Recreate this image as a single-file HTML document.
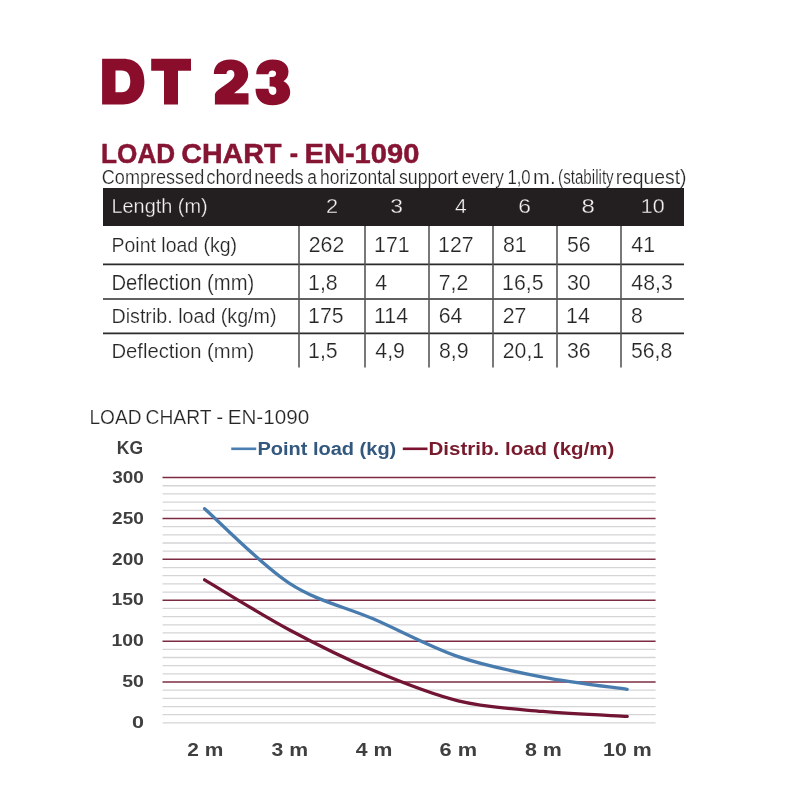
<!DOCTYPE html>
<html><head><meta charset="utf-8"><title>DT 23 Load Chart</title><style>
html,body{margin:0;padding:0;background:#fff;}
body{width:800px;height:800px;overflow:hidden;}
svg{display:block;will-change:transform;}
text{font-family:"Liberation Sans",sans-serif;}
.th{fill:#f4f2f2;stroke:#231f20;stroke-width:0.32px;}
.td{fill:#262626;stroke:#fff;stroke-width:0.22px;}
.ax{fill:#3f3f3f;}
.sub{fill:#262626;stroke:#fff;stroke-width:0.22px;}
</style></head><body>
<svg width="800" height="800" viewBox="0 0 800 800">
<g fill="#8a0e2c" fill-rule="evenodd">
<path d="M102.1,58.7 H123 C136.5,58.7 144.4,67 144.4,81.6 C144.4,96 136.5,104.5 123,104.5 H102.1 Z M115.5,70.5 V92.2 H121.5 C127.3,92.2 130.3,88.2 130.3,81.3 C130.3,74.5 127.3,70.5 121.5,70.5 Z"/>
<path d="M151.2,58.7 H191 V70.7 H178 V104.5 H164 V70.7 H151.2 Z"/>
<path d="M214.9,104.5 H248.5 V93.2 H234.1 C240,88.5 248.2,83 248.2,74.6 C248.2,65 240.5,59.5 230.7,59.5 C220,59.5 213.8,65 213.8,73.9 H226.5 C226.5,71.5 228,70.1 230.7,70.1 C233,70.1 234.4,71.8 234.4,74.5 C234.4,78.5 230,81.5 225,85 C218,90 214.9,92 214.9,95 Z"/>
<path d="M256.2,74.3 C256.2,64.5 263.5,59.4 272.7,59.4 C282,59.4 288.5,64 288.5,71.5 C288.5,76 286.5,79.5 283.5,81.2 C287.5,83 290.2,87 290.2,92.5 C290.2,100.5 283,105.2 272.7,105.2 C262,105.2 255.5,99.5 255.5,88.7 H268.5 C268.5,92.5 270.5,94.9 273,94.9 C275.5,94.9 276.4,93 276.4,90.5 C276.4,88 275,86.6 272,86.6 H269.6 V77 H272 C275,77 276.1,75.5 276.1,73.6 C276.1,71.5 274.5,70.5 272.5,70.5 C270,70.5 268.5,72 268.5,74.3 Z"/>
</g>
<rect x="103" y="188" width="581" height="38" fill="#231f20"/>
<line x1="103" x2="684" y1="264.4" y2="264.4" stroke="#2b2b2b" stroke-width="1.6"/>
<line x1="103" x2="684" y1="299" y2="299" stroke="#2b2b2b" stroke-width="1.6"/>
<line x1="103" x2="684" y1="333.4" y2="333.4" stroke="#2b2b2b" stroke-width="1.6"/>
<line x1="299" x2="299" y1="226" y2="367.5" stroke="#575757" stroke-width="1.6"/>
<line x1="365" x2="365" y1="226" y2="367.5" stroke="#575757" stroke-width="1.6"/>
<line x1="429" x2="429" y1="226" y2="367.5" stroke="#575757" stroke-width="1.6"/>
<line x1="493" x2="493" y1="226" y2="367.5" stroke="#575757" stroke-width="1.6"/>
<line x1="557" x2="557" y1="226" y2="367.5" stroke="#575757" stroke-width="1.6"/>
<line x1="621" x2="621" y1="226" y2="367.5" stroke="#575757" stroke-width="1.6"/>
<line x1="162.5" x2="655.6" y1="722.9" y2="722.9" stroke="#d5d5d7" stroke-width="1.3"/>
<line x1="162.5" x2="655.6" y1="714.72" y2="714.72" stroke="#d5d5d7" stroke-width="1.3"/>
<line x1="162.5" x2="655.6" y1="706.55" y2="706.55" stroke="#d5d5d7" stroke-width="1.3"/>
<line x1="162.5" x2="655.6" y1="698.37" y2="698.37" stroke="#d5d5d7" stroke-width="1.3"/>
<line x1="162.5" x2="655.6" y1="690.19" y2="690.19" stroke="#d5d5d7" stroke-width="1.3"/>
<line x1="162.5" x2="655.6" y1="682.01" y2="682.01" stroke="#7c2c42" stroke-width="1.5"/>
<line x1="162.5" x2="655.6" y1="673.84" y2="673.84" stroke="#d5d5d7" stroke-width="1.3"/>
<line x1="162.5" x2="655.6" y1="665.66" y2="665.66" stroke="#d5d5d7" stroke-width="1.3"/>
<line x1="162.5" x2="655.6" y1="657.48" y2="657.48" stroke="#d5d5d7" stroke-width="1.3"/>
<line x1="162.5" x2="655.6" y1="649.31" y2="649.31" stroke="#d5d5d7" stroke-width="1.3"/>
<line x1="162.5" x2="655.6" y1="641.13" y2="641.13" stroke="#7c2c42" stroke-width="1.5"/>
<line x1="162.5" x2="655.6" y1="632.95" y2="632.95" stroke="#d5d5d7" stroke-width="1.3"/>
<line x1="162.5" x2="655.6" y1="624.78" y2="624.78" stroke="#d5d5d7" stroke-width="1.3"/>
<line x1="162.5" x2="655.6" y1="616.6" y2="616.6" stroke="#d5d5d7" stroke-width="1.3"/>
<line x1="162.5" x2="655.6" y1="608.42" y2="608.42" stroke="#d5d5d7" stroke-width="1.3"/>
<line x1="162.5" x2="655.6" y1="600.25" y2="600.25" stroke="#7c2c42" stroke-width="1.5"/>
<line x1="162.5" x2="655.6" y1="592.07" y2="592.07" stroke="#d5d5d7" stroke-width="1.3"/>
<line x1="162.5" x2="655.6" y1="583.89" y2="583.89" stroke="#d5d5d7" stroke-width="1.3"/>
<line x1="162.5" x2="655.6" y1="575.71" y2="575.71" stroke="#d5d5d7" stroke-width="1.3"/>
<line x1="162.5" x2="655.6" y1="567.54" y2="567.54" stroke="#d5d5d7" stroke-width="1.3"/>
<line x1="162.5" x2="655.6" y1="559.36" y2="559.36" stroke="#7c2c42" stroke-width="1.5"/>
<line x1="162.5" x2="655.6" y1="551.18" y2="551.18" stroke="#d5d5d7" stroke-width="1.3"/>
<line x1="162.5" x2="655.6" y1="543.01" y2="543.01" stroke="#d5d5d7" stroke-width="1.3"/>
<line x1="162.5" x2="655.6" y1="534.83" y2="534.83" stroke="#d5d5d7" stroke-width="1.3"/>
<line x1="162.5" x2="655.6" y1="526.65" y2="526.65" stroke="#d5d5d7" stroke-width="1.3"/>
<line x1="162.5" x2="655.6" y1="518.48" y2="518.48" stroke="#7c2c42" stroke-width="1.5"/>
<line x1="162.5" x2="655.6" y1="510.3" y2="510.3" stroke="#d5d5d7" stroke-width="1.3"/>
<line x1="162.5" x2="655.6" y1="502.12" y2="502.12" stroke="#d5d5d7" stroke-width="1.3"/>
<line x1="162.5" x2="655.6" y1="493.94" y2="493.94" stroke="#d5d5d7" stroke-width="1.3"/>
<line x1="162.5" x2="655.6" y1="485.77" y2="485.77" stroke="#d5d5d7" stroke-width="1.3"/>
<line x1="162.5" x2="655.6" y1="477.59" y2="477.59" stroke="#7c2c42" stroke-width="1.5"/>
<line x1="231.25" x2="256.25" y1="448.8" y2="448.8" stroke="#4a7eb0" stroke-width="2.6"/>
<line x1="402.8" x2="427.5" y1="448.8" y2="448.8" stroke="#7a1230" stroke-width="2.6"/>
<path d="M204.6,508.66 C218.69,521.06 260.95,564.68 289.12,583.07 C317.29,601.47 345.47,606.79 373.64,619.05 C401.81,631.32 429.99,646.99 458.16,656.67 C486.33,666.34 514.51,671.66 542.68,677.11 C570.85,682.56 613.11,687.33 627.2,689.37" fill="none" stroke="#497cae" stroke-width="3.3" stroke-linecap="round"/>
<path d="M204.6,579.8 C218.69,588.12 260.95,614.55 289.12,629.68 C317.29,644.81 345.47,658.71 373.64,670.57 C401.81,682.42 429.99,694.01 458.16,700.82 C486.33,707.64 514.51,708.86 542.68,711.45 C570.85,714.04 613.11,715.54 627.2,716.36" fill="none" stroke="#721433" stroke-width="3.3" stroke-linecap="round"/>
<text x="101.12" y="163.45" font-size="28" font-weight="bold" textLength="74" lengthAdjust="spacingAndGlyphs" fill="#861533" stroke="#861533" stroke-width="0.5">LOAD</text>
<text x="181.2" y="163.45" font-size="28" font-weight="bold" textLength="100.32" lengthAdjust="spacingAndGlyphs" fill="#861533" stroke="#861533" stroke-width="0.5">CHART</text>
<text x="289.75" y="163.45" font-size="28" font-weight="bold" textLength="8.33" lengthAdjust="spacingAndGlyphs" fill="#861533" stroke="#861533" stroke-width="0.5">-</text>
<text x="304.46" y="163.45" font-size="28" font-weight="bold" textLength="114.95" lengthAdjust="spacingAndGlyphs" fill="#861533" stroke="#861533" stroke-width="0.5">EN-1090</text>
<text x="101.8" y="183.9" font-size="20" textLength="102.45" lengthAdjust="spacingAndGlyphs" class="sub">Compressed</text>
<text x="206.26" y="183.9" font-size="20" textLength="46.12" lengthAdjust="spacingAndGlyphs" class="sub">chord</text>
<text x="254.23" y="183.9" font-size="20" textLength="49.4" lengthAdjust="spacingAndGlyphs" class="sub">needs</text>
<text x="307.31" y="183.9" font-size="20" textLength="9.63" lengthAdjust="spacingAndGlyphs" class="sub">a</text>
<text x="320.03" y="183.9" font-size="20" textLength="75.62" lengthAdjust="spacingAndGlyphs" class="sub">horizontal</text>
<text x="398.97" y="183.9" font-size="20" textLength="59.13" lengthAdjust="spacingAndGlyphs" class="sub">support</text>
<text x="461.81" y="183.9" font-size="20" textLength="42.03" lengthAdjust="spacingAndGlyphs" class="sub">every</text>
<text x="507.41" y="183.9" font-size="20" textLength="23.26" lengthAdjust="spacingAndGlyphs" class="sub">1,0</text>
<text x="533.08" y="183.9" font-size="20" textLength="22.51" lengthAdjust="spacingAndGlyphs" class="sub">m.</text>
<text x="558.09" y="183.9" font-size="20" textLength="55.62" lengthAdjust="spacingAndGlyphs" class="sub">(stability</text>
<text x="615.65" y="183.9" font-size="20" textLength="70.88" lengthAdjust="spacingAndGlyphs" class="sub">request)</text>
<text x="111.51" y="212.9" font-size="21.14" textLength="96.09" lengthAdjust="spacingAndGlyphs" class="th">Length (m)</text>
<text x="325.91" y="212.6" font-size="20.5" textLength="12.09" lengthAdjust="spacingAndGlyphs" class="th">2</text>
<text x="390.34" y="212.6" font-size="20.5" textLength="12.72" lengthAdjust="spacingAndGlyphs" class="th">3</text>
<text x="455.08" y="212.6" font-size="20.5" textLength="11.72" lengthAdjust="spacingAndGlyphs" class="th">4</text>
<text x="518.36" y="212.6" font-size="20.5" textLength="12.7" lengthAdjust="spacingAndGlyphs" class="th">6</text>
<text x="581.54" y="212.6" font-size="20.5" textLength="13.31" lengthAdjust="spacingAndGlyphs" class="th">8</text>
<text x="640.78" y="212.6" font-size="20.5" textLength="23.88" lengthAdjust="spacingAndGlyphs" class="th">10</text>
<text x="111.54" y="251.6" font-size="20.29" textLength="125.58" lengthAdjust="spacingAndGlyphs" class="td">Point load (kg)</text>
<text x="308.74" y="251.6" font-size="21.29" class="td">262</text>
<text x="374.1" y="251.6" font-size="21.29" class="td">171</text>
<text x="438.1" y="251.6" font-size="21.29" class="td">127</text>
<text x="502.95" y="251.6" font-size="21.29" class="td">81</text>
<text x="566.95" y="251.6" font-size="21.29" class="td">56</text>
<text x="631.37" y="251.6" font-size="21.29" class="td">41</text>
<text x="111.48" y="289.6" font-size="21.21" textLength="142.87" lengthAdjust="spacingAndGlyphs" class="td">Deflection (mm)</text>
<text x="308.1" y="289.6" font-size="21.29" class="td">1,8</text>
<text x="375.37" y="289.6" font-size="21.29" class="td">4</text>
<text x="438.74" y="289.6" font-size="21.29" class="td">7,2</text>
<text x="502.1" y="289.6" font-size="21.29" class="td">16,5</text>
<text x="566.95" y="289.6" font-size="21.29" class="td">30</text>
<text x="631.37" y="289.6" font-size="21.29" class="td">48,3</text>
<text x="111.53" y="323.2" font-size="20" textLength="164.96" lengthAdjust="spacingAndGlyphs" class="td">Distrib. load (kg/m)</text>
<text x="308.1" y="323.2" font-size="21.29" class="td">175</text>
<text x="374.1" y="323.2" font-size="21.29" class="td">114</text>
<text x="438.74" y="323.2" font-size="21.29" class="td">64</text>
<text x="502.74" y="323.2" font-size="21.29" class="td">27</text>
<text x="566.1" y="323.2" font-size="21.29" class="td">14</text>
<text x="630.95" y="323.2" font-size="21.29" class="td">8</text>
<text x="111.48" y="358" font-size="20.57" textLength="142.87" lengthAdjust="spacingAndGlyphs" class="td">Deflection (mm)</text>
<text x="308.1" y="358" font-size="21.29" class="td">1,5</text>
<text x="375.37" y="358" font-size="21.29" class="td">4,9</text>
<text x="438.95" y="358" font-size="21.29" class="td">8,9</text>
<text x="502.74" y="358" font-size="21.29" class="td">20,1</text>
<text x="566.95" y="358" font-size="21.29" class="td">36</text>
<text x="630.95" y="358" font-size="21.29" class="td">56,8</text>
<text x="89.47" y="423.9" font-size="20" textLength="52.05" lengthAdjust="spacingAndGlyphs" class="sub">LOAD</text>
<text x="145.54" y="423.9" font-size="20" textLength="65.97" lengthAdjust="spacingAndGlyphs" class="sub">CHART</text>
<text x="216.16" y="423.9" font-size="20" textLength="7" lengthAdjust="spacingAndGlyphs" class="sub">-</text>
<text x="227.65" y="423.9" font-size="20" textLength="81.62" lengthAdjust="spacingAndGlyphs" class="sub">EN-1090</text>
<text x="116.77" y="453.75" font-size="18.21" font-weight="bold" textLength="26.28" lengthAdjust="spacingAndGlyphs" class="ax">KG</text>
<text x="257.4" y="455" font-size="18" font-weight="bold" textLength="138.88" lengthAdjust="spacingAndGlyphs" fill="#33587d">Point load (kg)</text>
<text x="428.56" y="455" font-size="17.71" font-weight="bold" textLength="185.89" lengthAdjust="spacingAndGlyphs" fill="#761a2c">Distrib. load (kg/m)</text>
<text x="132.09" y="728.1" font-size="16.29" font-weight="bold" textLength="12.01" lengthAdjust="spacingAndGlyphs" class="ax">0</text>
<text x="122.21" y="687.22" font-size="16.29" font-weight="bold" textLength="21.71" lengthAdjust="spacingAndGlyphs" class="ax">50</text>
<text x="111.49" y="646.33" font-size="16.29" font-weight="bold" textLength="32.36" lengthAdjust="spacingAndGlyphs" class="ax">100</text>
<text x="111.49" y="605.45" font-size="16.29" font-weight="bold" textLength="32.36" lengthAdjust="spacingAndGlyphs" class="ax">150</text>
<text x="112.08" y="564.56" font-size="16.29" font-weight="bold" textLength="31.76" lengthAdjust="spacingAndGlyphs" class="ax">200</text>
<text x="112.08" y="523.68" font-size="16.29" font-weight="bold" textLength="31.76" lengthAdjust="spacingAndGlyphs" class="ax">250</text>
<text x="112.27" y="482.79" font-size="16.29" font-weight="bold" textLength="31.56" lengthAdjust="spacingAndGlyphs" class="ax">300</text>
<text x="187.27" y="755.65" font-size="18.43" font-weight="bold" textLength="36.05" lengthAdjust="spacingAndGlyphs" class="ax">2 m</text>
<text x="271.48" y="755.65" font-size="18.43" font-weight="bold" textLength="36.57" lengthAdjust="spacingAndGlyphs" class="ax">3 m</text>
<text x="355.78" y="755.65" font-size="18.43" font-weight="bold" textLength="36.57" lengthAdjust="spacingAndGlyphs" class="ax">4 m</text>
<text x="439.63" y="755.65" font-size="18.43" font-weight="bold" textLength="37.55" lengthAdjust="spacingAndGlyphs" class="ax">6 m</text>
<text x="524.96" y="755.65" font-size="18.43" font-weight="bold" textLength="36.9" lengthAdjust="spacingAndGlyphs" class="ax">8 m</text>
<text x="603.12" y="755.65" font-size="18.43" font-weight="bold" textLength="48.65" lengthAdjust="spacingAndGlyphs" class="ax">10 m</text>
</svg>
</body></html>
